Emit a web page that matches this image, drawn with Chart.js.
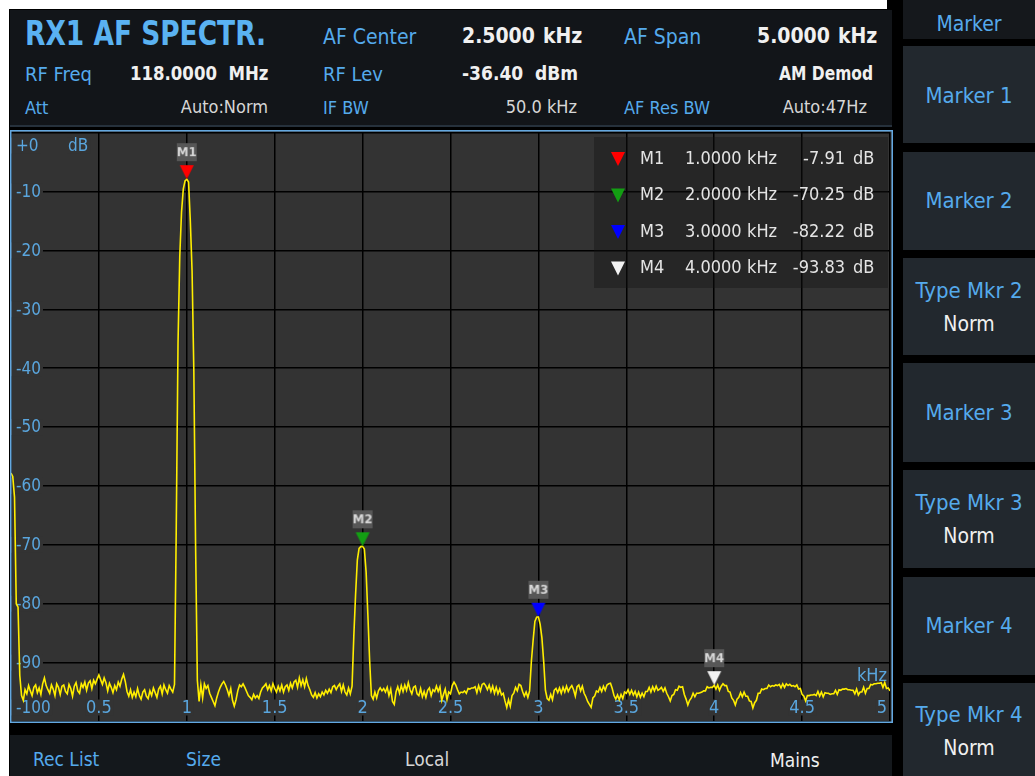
<!DOCTYPE html>
<html>
<head>
<meta charset="utf-8">
<script src="https://cdn.jsdelivr.net/npm/chart.js@4.4.1/dist/chart.umd.min.js"></script>
<style>
	html, body { margin: 0; padding: 0; }
	body {
		width: 1035px; height: 776px; position: relative; overflow: hidden; background: #ffffff;
		font-family: 'Liberation Sans Narrow', 'DejaVu Sans Condensed', sans-serif;
	}
	.blk { position: absolute; background: #000; }
	.box { position: absolute; }
	.t { position: absolute; white-space: nowrap; line-height: 1; transform: translateY(-50%); transform-origin: left center; }
	.r { transform: translate(-100%, -50%); transform-origin: right center; }
	.c { transform: translate(-50%, -50%); }
	.blue { color: #55aaec; }
	.white { color: #f0f0f0; }
	.grey { color: #d6d6d6; }
	.b { font-weight: bold; }
	#plot { position: absolute; left: 10px; top: 130px; }
	.key { position: absolute; left: 903px; width: 132px; background: #22282e; }
</style>
</head>
<body>

<!-- instrument screen background -->
<div class="blk" style="left:9px; top:9px; width:1026px; height:767px;"></div>
<div class="blk" style="left:887px; top:0; width:148px; height:9px;"></div>

<!-- header -->
<div class="box" style="left:10px; top:10px; width:882px; height:115px; background:#121519; border-bottom:2px solid #26313c;"></div>
<div class="t blue b" style="left:25px; top:33px; font-size:34px; color:#5ab2f2; transform:translateY(-50%) scaleX(0.865);">RX1 AF SPECTR.</div>
<div class="t blue" style="left:323px; top:37px; font-size:21px;">AF Center</div>
<div class="t white b" style="left:462px; top:36px; font-size:21px;">2.5000</div>
<div class="t white b" style="left:543px; top:36px; font-size:21px;">kHz</div>
<div class="t blue" style="left:624px; top:37px; font-size:21px;">AF Span</div>
<div class="t white b" style="left:757px; top:36px; font-size:21px;">5.0000</div>
<div class="t white b" style="left:838px; top:36px; font-size:21px;">kHz</div>

<div class="t blue" style="left:25px; top:74px; font-size:20px;">RF Freq</div>
<div class="t white b" style="left:130px; top:73px; font-size:20px; transform:translateY(-50%) scaleX(0.92);">118.0000&nbsp; MHz</div>
<div class="t blue" style="left:323px; top:74px; font-size:20px;">RF Lev</div>
<div class="t white b" style="left:462px; top:73px; font-size:20px; transform:translateY(-50%) scaleX(0.95);">-36.40&nbsp; dBm</div>
<div class="t white b r" style="left:873px; top:73px; font-size:20px; transform:translate(-100%, -50%) scaleX(0.86);">AM Demod</div>

<div class="t blue" style="left:25px; top:108px; font-size:18px;">Att</div>
<div class="t grey r" style="left:268px; top:107px; font-size:18px;">Auto:Norm</div>
<div class="t blue" style="left:323px; top:108px; font-size:18px;">IF BW</div>
<div class="t grey r" style="left:577px; top:107px; font-size:18px;">50.0 kHz</div>
<div class="t blue" style="left:624px; top:108px; font-size:18px;">AF Res BW</div>
<div class="t grey r" style="left:867px; top:107px; font-size:18px;">Auto:47Hz</div>

<!-- spectrum -->
<canvas id="plot" width="883" height="593"></canvas>

<!-- bottom bar -->
<div class="box" style="left:10px; top:735px; width:882px; height:41px; background:#14181c;"></div>
<div class="t blue" style="left:33px; top:759px; font-size:19px;">Rec List</div>
<div class="t blue" style="left:186px; top:759px; font-size:19px;">Size</div>
<div class="t grey" style="left:405px; top:759px; font-size:19px;">Local</div>
<div class="t white" style="left:770px; top:760px; font-size:19px;">Mains</div>

<!-- soft keys -->
<div class="box" style="left:903px; top:0; width:132px; height:39px; background:#15181c;"></div>
<div class="t blue c" style="left:969px; top:24px; font-size:21px;">Marker</div>
<div class="key" style="top:46px; height:97px;"></div>
<div class="t blue c" style="left:969px; top:96px; font-size:22px;">Marker 1</div>
<div class="key" style="top:152px; height:98px;"></div>
<div class="t blue c" style="left:969px; top:201px; font-size:22px;">Marker 2</div>
<div class="key" style="top:258px; height:97px;"></div>
<div class="t blue c" style="left:969px; top:291px; font-size:22px;">Type Mkr 2</div>
<div class="t white c" style="left:969px; top:324px; font-size:21px;">Norm</div>
<div class="key" style="top:363px; height:99px;"></div>
<div class="t blue c" style="left:969px; top:413px; font-size:22px;">Marker 3</div>
<div class="key" style="top:470px; height:98px;"></div>
<div class="t blue c" style="left:969px; top:503px; font-size:22px;">Type Mkr 3</div>
<div class="t white c" style="left:969px; top:536px; font-size:21px;">Norm</div>
<div class="key" style="top:577px; height:98px;"></div>
<div class="t blue c" style="left:969px; top:626px; font-size:22px;">Marker 4</div>
<div class="key" style="top:683px; height:93px;"></div>
<div class="t blue c" style="left:969px; top:715px; font-size:22px;">Type Mkr 4</div>
<div class="t white c" style="left:969px; top:748px; font-size:21px;">Norm</div>

<script>
// sweep: 501 bins, 0 .. 5 kHz
const sweepStartKHz = 0;
const sweepStepKHz = 0.01;

// trace level in dB, one value per bin, 10 bins per row
const traceLevelDb = [
	-57.8, -58.4, -61.9, -80.0, -80.6, -92.2, -95.6, -96.4, -94.6, -95.3,
	-93.9, -94.8, -95.6, -94.2, -93.8, -95.1, -94.3, -95.4, -93.6, -92.6,
	-93.9, -94.6, -95.2, -93.8, -94.5, -95.6, -93.6, -94.2, -95.4, -94.0,
	-93.8, -94.9, -95.3, -93.7, -94.4, -95.7, -94.0, -93.4, -94.8, -95.2,
	-93.6, -94.2, -93.3, -94.7, -93.5, -93.1, -94.4, -93.0, -93.6, -92.8,
	-92.1, -92.9, -93.7, -92.6, -93.4, -94.8, -93.5, -94.2, -95.1, -93.9,
	-94.6, -93.3, -94.0, -92.8, -92.0, -93.2, -94.9, -95.7, -94.6, -95.9,
	-95.0, -95.8, -94.4, -95.6, -96.2, -95.0, -94.6, -95.7, -96.1, -94.8,
	-95.6, -94.3, -95.1, -95.9, -94.5, -94.0, -95.3, -93.8, -94.6, -95.2,
	-93.9, -94.5, -95.0, -93.7, -67.2, -35.9, -21.0, -13.5, -9.6, -8.2,
	-7.91, -8.4, -15.0, -23.5, -40.5, -70.1, -93.0, -96.6, -93.8, -96.0,
	-93.6, -94.4, -93.9, -95.2, -95.9, -96.6, -97.3, -96.0, -95.0, -94.2,
	-93.6, -93.2, -93.8, -94.6, -95.6, -94.4, -96.4, -97.4, -96.3, -94.8,
	-93.8, -94.1, -93.6, -94.2, -94.9, -95.6, -95.9, -96.3, -95.4, -96.0,
	-95.6, -96.1, -95.0, -94.3, -94.0, -93.6, -94.6, -93.9, -94.8, -93.6,
	-94.4, -95.0, -94.0, -94.8, -93.8, -95.0, -94.1, -93.8, -94.7, -93.5,
	-94.3, -93.3, -93.0, -94.2, -92.6, -93.9, -92.9, -94.1, -92.7, -93.9,
	-94.6, -95.5, -95.9, -95.1, -96.0, -95.3, -95.8, -95.0, -95.5, -94.7,
	-95.2, -94.5, -95.1, -94.1, -93.9, -94.6, -94.0, -93.6, -94.9, -93.8,
	-95.0, -95.5, -94.3, -95.3, -94.0, -85.5, -78.5, -72.6, -70.6, -70.3,
	-70.25, -70.7, -74.6, -81.9, -89.6, -95.6, -96.2, -95.0, -96.0, -94.8,
	-94.3, -94.8, -94.4, -95.0, -94.2, -95.6, -94.5, -96.6, -97.1, -95.0,
	-94.1, -95.2, -93.9, -94.9, -93.8, -94.7, -93.4, -94.6, -95.3, -94.2,
	-94.0, -95.3, -95.6, -94.4, -95.8, -94.9, -95.9, -94.7, -94.3, -95.6,
	-94.6, -94.9, -94.0, -94.9, -94.1, -96.4, -95.4, -94.5, -96.3, -95.0,
	-95.3, -93.9, -93.3, -93.8, -94.6, -95.3, -95.0, -95.1, -94.8, -95.2,
	-94.4, -94.5, -94.3, -94.3, -94.1, -95.1, -93.9, -94.8, -93.7, -93.5,
	-93.9, -94.6, -93.8, -94.9, -94.0, -95.2, -94.2, -95.3, -94.5, -95.5,
	-95.2, -96.5, -97.6, -96.3, -97.4, -95.6, -95.2, -94.2, -94.8, -93.7,
	-93.9, -94.9, -95.7, -95.0, -95.9, -94.8, -89.8, -86.2, -83.0, -82.3,
	-82.22, -83.5, -85.8, -89.8, -94.7, -96.1, -96.4, -95.4, -96.3, -94.7,
	-94.4, -95.1, -94.3, -95.2, -94.2, -95.0, -94.0, -94.9, -94.3, -93.9,
	-94.6, -95.7, -94.1, -93.8, -94.8, -94.0, -95.2, -95.8, -96.6, -97.1,
	-97.6, -96.0, -95.7, -94.8, -95.0, -94.2, -94.9, -94.0, -94.7, -93.8,
	-93.6, -93.5, -94.4, -95.6, -96.2, -95.5, -96.3, -95.4, -96.1, -95.0,
	-95.2, -94.6, -95.4, -94.7, -95.5, -94.9, -95.8, -95.0, -95.9, -95.2,
	-95.8, -94.9, -94.9, -94.2, -95.0, -94.1, -94.8, -94.0, -94.7, -94.5,
	-94.2, -94.9, -94.3, -95.2, -95.8, -96.5, -95.6, -95.4, -94.6, -94.7,
	-94.0, -94.2, -94.1, -95.4, -96.2, -97.2, -96.4, -96.0, -95.2, -95.8,
	-95.2, -95.2, -95.1, -95.0, -94.8, -94.8, -94.1, -94.3, -94.2, -94.2,
	-93.83, -94.5, -93.8, -94.7, -94.0, -93.6, -93.9, -93.9, -94.9, -95.0,
	-96.0, -96.4, -97.2, -96.2, -95.9, -95.1, -95.8, -95.0, -95.7, -95.7,
	-96.5, -96.6, -97.7, -96.8, -96.4, -95.2, -95.2, -94.5, -94.6, -94.4,
	-94.4, -93.8, -94.1, -93.9, -94.0, -93.8, -93.9, -93.7, -94.3, -93.6,
	-94.2, -93.6, -93.9, -93.7, -94.0, -93.9, -94.1, -93.8, -94.5, -94.4,
	-95.4, -95.7, -96.5, -95.6, -95.6, -95.5, -95.5, -95.4, -95.6, -94.9,
	-95.7, -95.0, -95.8, -95.1, -95.2, -95.2, -95.4, -95.3, -95.3, -94.7,
	-95.4, -94.6, -94.7, -94.5, -94.5, -94.4, -94.6, -94.6, -94.7, -94.7,
	-95.3, -94.5, -95.5, -95.0, -95.0, -94.2, -95.2, -94.4, -94.4, -93.7,
	-93.8, -93.6, -93.6, -93.5, -93.5, -93.4, -94.2, -93.4, -94.4, -94.3,
	-94.8
];

// markers
const markerNames = ['M1', 'M2', 'M3', 'M4'];
const markerFreqKHz = [1.0, 2.0, 3.0, 4.0];
const markerLevelDb = [-7.91, -70.25, -82.22, -93.83];
const markerColors = ['#ff0000', '#139e13', '#0000ff', '#f2f2f2'];

// axis labels, drawn inside the plot like on the instrument
const yTickValues = [0, -10, -20, -30, -40, -50, -60, -70, -80, -90, -100];
const yTickLabels = ['+0', '-10', '-20', '-30', '-40', '-50', '-60', '-70', '-80', '-90', '-100'];
const xTickValues = [0.5, 1, 1.5, 2, 2.5, 3, 3.5, 4, 4.5, 5];
const xTickLabels = ['0.5', '1', '1.5', '2', '2.5', '3', '3.5', '4', '4.5', '5'];

const FONT = '"Liberation Sans Narrow", "DejaVu Sans Condensed", sans-serif';
const PLOT_BG = '#333333';
const AXIS_BLUE = '#5aa6de';

const tracePoints = traceLevelDb.map((db, i) => ({ x: sweepStartKHz + i * sweepStepKHz, y: db }));
const markerPoints = markerFreqKHz.map((f, i) => ({ x: f, y: markerLevelDb[i] }));

// little sprite: grey name tag above a down-pointing triangle, tip at the centre
function makeMarkerSprite(name, color) {
	const c = document.createElement('canvas');
	c.width = 24;
	c.height = 80;
	const g = c.getContext('2d');
	g.fillStyle = '#575757';
	g.fillRect(2, 4, 20, 18);
	g.fillStyle = '#d8d8d8';
	g.font = 'bold 13px ' + FONT;
	g.textAlign = 'center';
	g.textBaseline = 'middle';
	g.fillText(name, 12, 14);
	g.fillStyle = color;
	g.beginPath();
	g.moveTo(5, 26);
	g.lineTo(19, 26);
	g.lineTo(12, 40);
	g.closePath();
	g.fill();
	return c;
}

function labelWithBg(ctx, text, x, y, align, bgLeft) {
	ctx.textAlign = align;
	const w = ctx.measureText(text).width;
	let x0 = align === 'center' ? x - w / 2 : (align === 'right' ? x - w : x);
	let x1 = x0 + w;
	if (bgLeft !== undefined) x0 = bgLeft;
	ctx.fillStyle = PLOT_BG;
	ctx.fillRect(x0 - 1, y - 8, x1 - x0 + 3, 16);
	ctx.fillStyle = AXIS_BLUE;
	ctx.fillText(text, x, y + 1);
}

const screenPlugin = {
	id: 'screen',
	beforeDraw(chart) {
		const { ctx, width, height } = chart;
		ctx.save();
		ctx.fillStyle = PLOT_BG;
		ctx.fillRect(0, 0, width, height);
		ctx.restore();
	},
	beforeDatasetsDraw(chart) {
		const { ctx, chartArea, scales } = chart;
		ctx.save();
		ctx.font = '17px ' + FONT;
		ctx.textBaseline = 'middle';

		// level labels down the left edge
		yTickValues.forEach((v, i) => {
			let y = scales.y.getPixelForValue(v);
			y = Math.min(Math.max(y, chartArea.top + 13), chartArea.bottom - 14);
			labelWithBg(ctx, yTickLabels[i], 6, y, 'left', 1);
		});
		labelWithBg(ctx, 'dB', 58, chartArea.top + 13, 'left');

		// frequency labels along the bottom
		ctx.font = '18px ' + FONT;
		xTickValues.forEach((v, i) => {
			const w = ctx.measureText(xTickLabels[i]).width;
			let x = scales.x.getPixelForValue(v);
			x = Math.min(x, chartArea.right - 3 - w / 2);
			labelWithBg(ctx, xTickLabels[i], x, chartArea.bottom - 14, 'center');
		});
		ctx.fillStyle = AXIS_BLUE;
		ctx.textAlign = 'right';
		ctx.fillText('kHz', chartArea.right - 3, chartArea.bottom - 45);
		ctx.restore();
	},
	afterDatasetsDraw(chart) {
		const { ctx, width, height, chartArea } = chart;
		ctx.save();

		// marker readout table, top right
		const left = chartArea.right - 296;
		const top = 7;
		ctx.fillStyle = 'rgba(18,18,18,0.38)';
		ctx.fillRect(left, top, 294, 151);
		ctx.font = '18px ' + FONT;
		ctx.textBaseline = 'middle';
		markerNames.forEach((name, i) => {
			const y = top + 22 + i * 36.5;
			const tx = left + 24;
			ctx.fillStyle = markerColors[i];
			ctx.beginPath();
			ctx.moveTo(tx - 7, y - 7);
			ctx.lineTo(tx + 7, y - 7);
			ctx.lineTo(tx, y + 7);
			ctx.closePath();
			ctx.fill();
			ctx.fillStyle = '#e4e4e4';
			ctx.textAlign = 'left';
			ctx.fillText(name, left + 46, y);
			ctx.fillText(markerFreqKHz[i].toFixed(4), left + 91, y);
			ctx.fillText('kHz', left + 153, y);
			ctx.textAlign = 'right';
			ctx.fillText(markerLevelDb[i].toFixed(2), left + 251, y);
			ctx.textAlign = 'left';
			ctx.fillText('dB', left + 259, y);
		});

		// blue frame round the diagram
		ctx.strokeStyle = '#64a8e0';
		ctx.lineWidth = 1.5;
		ctx.strokeRect(0.75, 0.75, width - 1.5, height - 1.5);
		ctx.restore();
	}
};

const config = {
	type: 'line',
	data: {
		datasets: [
			{
				// markers first in the list so they sit on top of the trace
				label: 'Markers',
				data: markerPoints,
				showLine: false,
				pointStyle: markerNames.map((n, i) => makeMarkerSprite(n, markerColors[i])),
				pointRadius: 6,
				order: 0
			},
			{
				label: 'Trace',
				data: tracePoints,
				borderColor: '#ffee00',
				borderWidth: 1.6,
				pointRadius: 0,
				tension: 0,
				fill: false,
				order: 1
			}
		]
	},
	options: {
		responsive: false,
		animation: false,
		events: [],
		layout: { autoPadding: false, padding: { left: 1, right: 3, top: 2.6, bottom: 1.5 } },
		plugins: {
			legend: { display: false },
			tooltip: { enabled: false }
		},
		scales: {
			x: {
				type: 'linear',
				min: 0,
				max: 5,
				ticks: { display: false, stepSize: 0.5 },
				grid: { color: '#000000', lineWidth: 1.5, drawTicks: false },
				border: { display: false }
			},
			y: {
				type: 'linear',
				min: -100,
				max: 0,
				ticks: { display: false, stepSize: 10 },
				grid: { color: '#000000', lineWidth: 1.5, drawTicks: false },
				border: { display: false }
			}
		}
	},
	plugins: [screenPlugin]
};

new Chart(document.getElementById('plot').getContext('2d'), config);
</script>
</body>
</html>
